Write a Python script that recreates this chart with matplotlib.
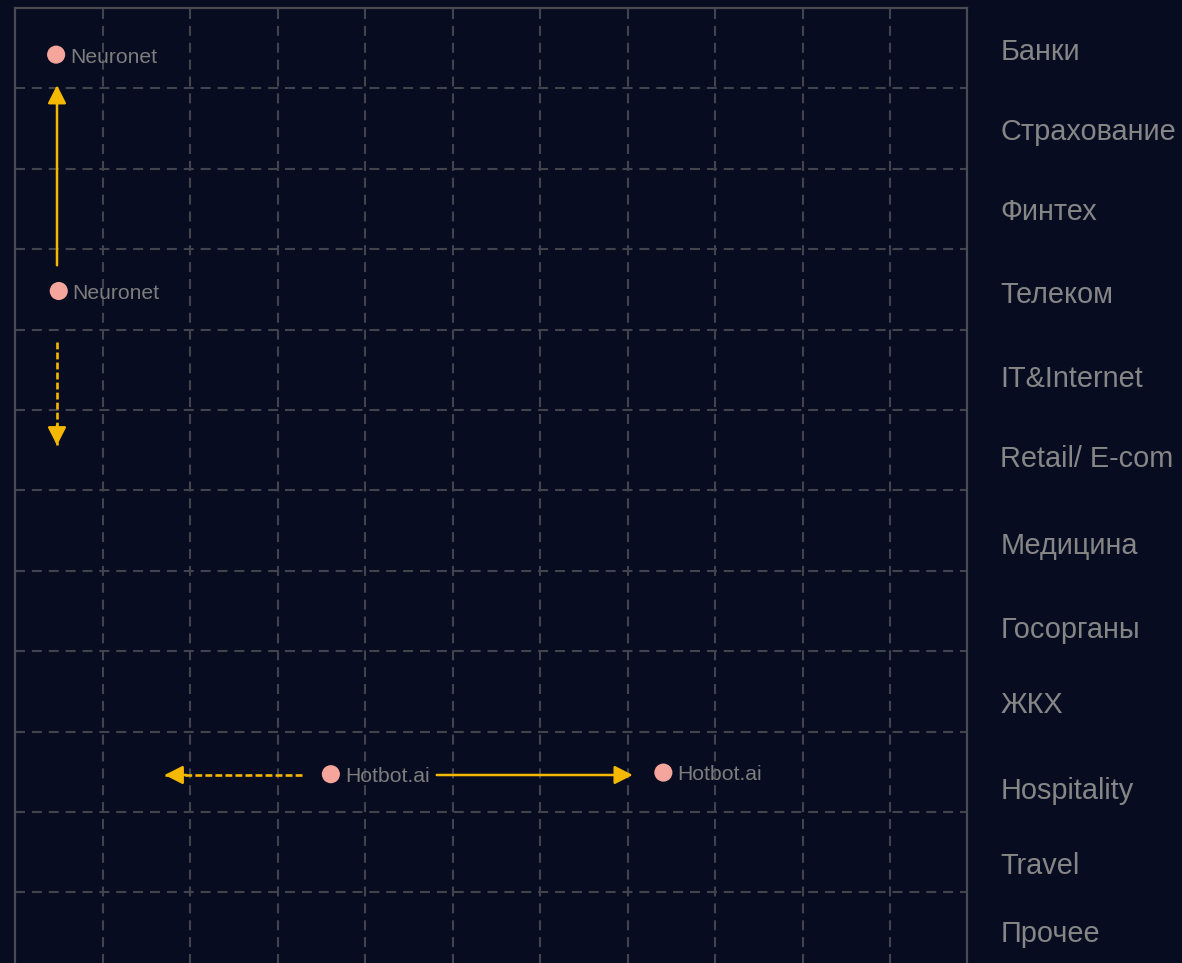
import matplotlib
matplotlib.use("Agg")
import matplotlib.pyplot as plt

plt.rcParams["font.family"] = ["Liberation Sans", "DejaVu Sans"]

# industries (rows, top to bottom)
categories = ["Банки", "Страхование", "Финтех", "Телеком", "IT&Internet",
              "Retail/ E-com", "Медицина", "Госорганы", "ЖКХ", "Hospitality",
              "Travel", "Прочее"]
# baseline of each row label, in row units from the top
label_y = [0.65, 1.64, 2.64, 3.67, 4.71, 5.71, 6.79, 7.84, 8.77, 9.84, 10.77, 11.62]

# companies: name, x (column units), y (row units)
names = ["Neuronet", "Neuronet", "Hotbot.ai", "Hotbot.ai"]
pos_x = [0.47, 0.50, 3.61, 7.41]
pos_y = [0.58, 3.52, 9.53, 9.51]

# movement arrows: start x, start y, end x, end y, dashed?
arr_x0 = [0.48, 0.48, 3.28, 4.82]
arr_y0 = [3.20, 4.15, 9.54, 9.54]
arr_x1 = [0.48, 0.48, 1.71, 7.06]
arr_y1 = [0.96, 5.44, 9.54, 9.54]
arr_dashed = [False, True, True, False]

n_cols = 10
n_rows = 11

bg = "#080c20"
grid_c = "#42434c"
arrow_c = "#f5b800"

fig = plt.figure(figsize=(11.82, 9.63), dpi=100, facecolor=bg)
# box starts 8px from top and runs past the bottom edge
ax = fig.add_axes([15 / 1182, 0.9917 - 1.0436, 952 / 1182, 1.0436])
ax.set_facecolor(bg)
ax.set_xlim(0, 10.88)
ax.set_ylim(12.5, 0)
ax.set_xticks([])
ax.set_yticks([])
for s in ax.spines.values():
    s.set_color("#4a4a52")
    s.set_linewidth(1.6)

for i in range(1, n_cols + 1):
    ax.axvline(i, color=grid_c, lw=1.5, dashes=(4.8, 3.3), zorder=1)
for j in range(1, n_rows + 1):
    ax.axhline(j, color=grid_c, lw=1.5, dashes=(4.8, 3.3), zorder=1)

head = dict(arrowstyle="-|>,head_length=0.55,head_width=0.28", color=arrow_c,
            lw=1.8, mutation_scale=20, shrinkA=0, shrinkB=0)
for x0, y0, x1, y1, d in zip(arr_x0, arr_y0, arr_x1, arr_y1, arr_dashed):
    if d:
        # dashed shaft, solid head
        ax.plot([x0, x1], [y0, y1], color=arrow_c, lw=1.9,
                dashes=(2.6, 1.2), zorder=3)
        dx = (x0 - x1) * 0.25 / max(abs(x0 - x1), abs(y0 - y1))
        dy = (y0 - y1) * 0.25 / max(abs(x0 - x1), abs(y0 - y1))
        ax.annotate("", xy=(x1, y1), xytext=(x1 + dx, y1 + dy),
                    arrowprops=head, zorder=4)
    else:
        ax.annotate("", xy=(x1, y1), xytext=(x0, y0), arrowprops=head, zorder=3)

ax.scatter(pos_x, pos_y, s=170, color="#f6a59c", edgecolors="none", zorder=5)
for n, x, y in zip(names, pos_x, pos_y):
    ax.text(x + 0.16, y + 0.03, n, color="#7d7d7d", fontsize=15.2, va="center",
            ha="left", zorder=6)

for c, y in zip(categories, label_y):
    ax.text(11.26, y, c, color="#868686", fontsize=20.8, va="baseline",
            ha="left", clip_on=False)

fig.savefig("out.png", dpi=100, facecolor=bg)
